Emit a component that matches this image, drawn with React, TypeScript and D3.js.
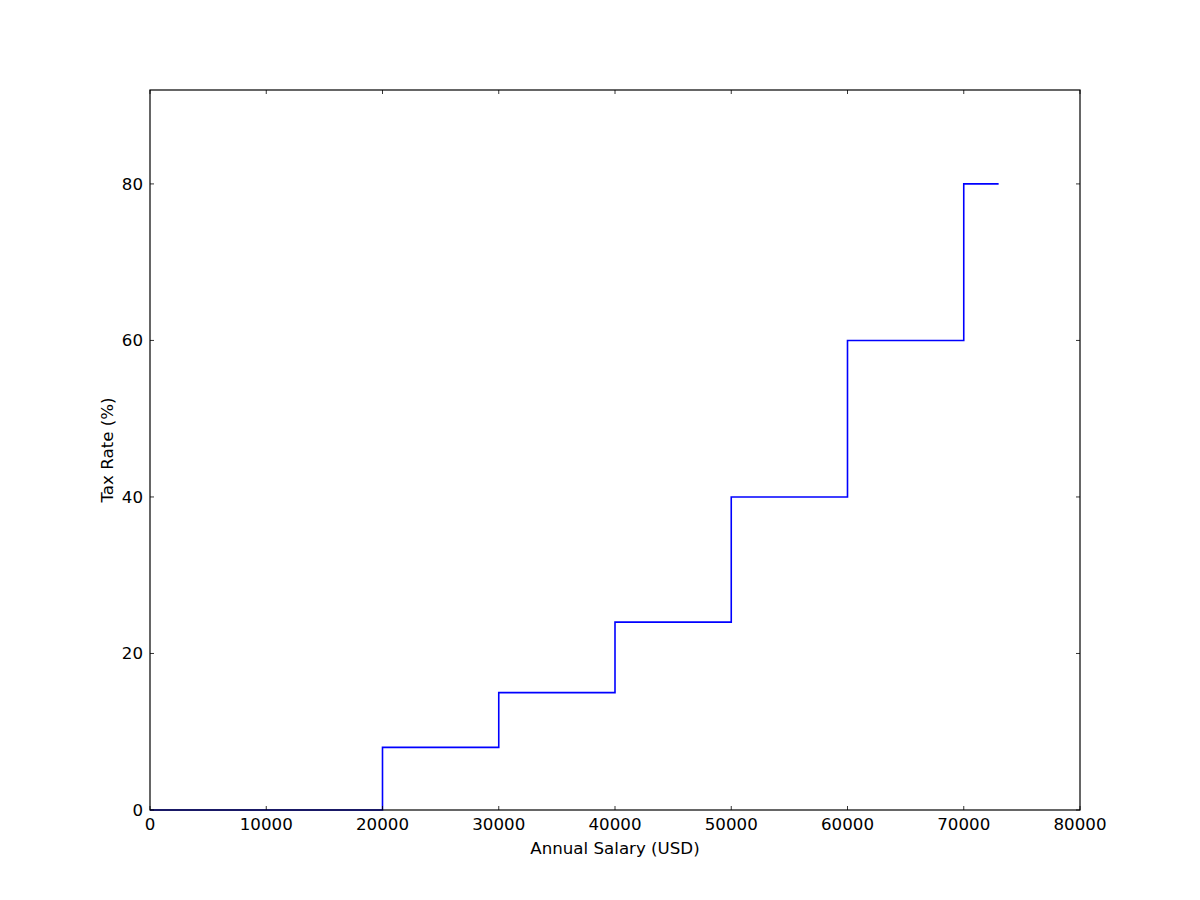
import React from "react";
import * as d3 from "d3";

const salaryBreaks = [0, 20000, 30000, 40000, 50000, 60000, 70000, 73000];
const taxRates = [0, 8, 15, 24, 40, 60, 80, 80];
const xTicks = [0, 10000, 20000, 30000, 40000, 50000, 60000, 70000, 80000];
const yTicks = [0, 20, 40, 60, 80];

const W = 1200, H = 900;
const L = 150, R = 1080, T = 90, B = 810;
const FONT = "DejaVu Sans, sans-serif";
const FS = 16.67;

export default function App() {
  const x = d3.scaleLinear().domain([0, 80000]).range([L, R]);
  const y = d3.scaleLinear().domain([0, 92]).range([B, T]);
  const pts: [number, number][] = salaryBreaks.map((s, i) => [s, taxRates[i]]);
  const line = d3.line<[number, number]>().x(d => x(d[0])).y(d => y(d[1])).curve(d3.curveStepAfter);
  const tl = 4;
  return (
    <svg width={W} height={H} style={{ position: "absolute", left: 0, top: 0, background: "#fff" }}>
      <rect x={0} y={0} width={W} height={H} fill="#fff" />
      <path d={line(pts) || ""} fill="none" stroke="#0000ff" strokeWidth={1.6} />
      <rect x={L} y={T} width={R - L} height={B - T} fill="none" stroke="#000" strokeWidth={1.2} />
      {xTicks.map(t => (
        <g key={"x" + t}>
          <line x1={x(t)} x2={x(t)} y1={B} y2={B - tl} stroke="#000" strokeWidth={0.8} />
          <line x1={x(t)} x2={x(t)} y1={T} y2={T + tl} stroke="#000" strokeWidth={0.8} />
          <text x={x(t)} y={830} textAnchor="middle" fontFamily={FONT} fontSize={FS}>{t}</text>
        </g>
      ))}
      {yTicks.map(t => (
        <g key={"y" + t}>
          <line x1={L} x2={L + tl} y1={y(t)} y2={y(t)} stroke="#000" strokeWidth={0.8} />
          <line x1={R} x2={R - tl} y1={y(t)} y2={y(t)} stroke="#000" strokeWidth={0.8} />
          <text x={143} y={y(t)} dy="0.35em" textAnchor="end" fontFamily={FONT} fontSize={FS}>{t}</text>
        </g>
      ))}
      <text x={(L + R) / 2} y={854} textAnchor="middle" fontFamily={FONT} fontSize={FS}>Annual Salary (USD)</text>
      <text transform={`translate(113,${(T + B) / 2}) rotate(-90)`} textAnchor="middle" fontFamily={FONT} fontSize={FS}>Tax Rate (%)</text>
    </svg>
  );
}
